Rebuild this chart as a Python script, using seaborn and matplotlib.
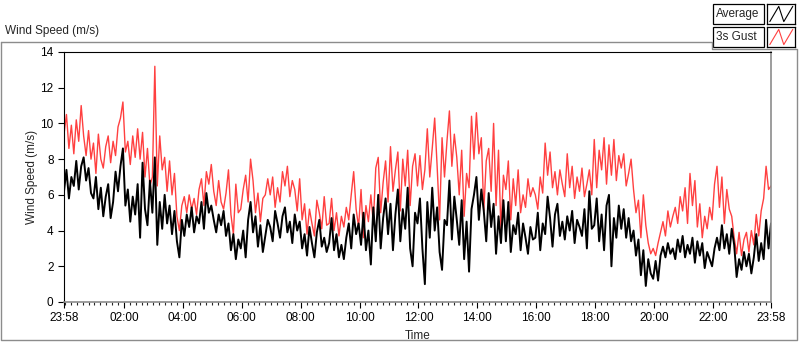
import numpy as np
import pandas as pd
import seaborn as sns
import matplotlib.pyplot as plt
import matplotlib.dates as mdates
from matplotlib.lines import Line2D
from matplotlib.patches import Rectangle

# 5-minute readings, 23:58 -> 23:58 next day (one row per hour)
avg_speed = [
    6.2, 7.4, 5.8, 7.0, 6.5, 7.9, 6.3, 7.6, 8.1, 6.8, 7.5, 6.1,
    5.8, 7.0, 5.2, 6.4, 4.8, 5.9, 6.6, 4.7, 5.6, 7.3, 6.2, 7.6,
    8.6, 5.4, 6.3, 4.5, 5.9, 4.9, 6.6, 3.6, 7.8, 5.2, 4.3, 6.8,
    5.0, 8.1, 3.2, 5.6, 4.1, 6.0, 4.4, 5.4, 3.8, 5.1, 3.4, 2.5,
    4.6, 3.7, 4.9, 4.2, 5.3, 3.9, 4.8, 4.4, 5.6, 4.1, 6.1, 5.0,
    5.4, 4.6, 3.9, 4.9, 4.3, 5.1, 3.7, 4.4, 2.9, 3.8, 2.4, 3.5,
    3.0, 4.0, 2.5, 4.6, 5.6, 3.9, 4.8, 3.1, 4.3, 2.8, 3.7, 4.6,
    4.2, 3.4, 5.1, 4.4, 3.6, 4.8, 5.3, 3.9, 4.5, 3.3, 4.9, 4.0,
    4.5, 3.0, 3.8, 2.6, 4.2, 3.3, 2.5, 3.9, 4.6, 3.1, 3.6, 2.8,
    3.3, 4.7, 2.9, 3.8, 2.5, 3.2, 2.4, 3.6, 4.4, 3.0, 4.9, 3.8,
    4.4, 3.2, 5.0, 2.9, 4.0, 2.1, 5.3, 3.4, 6.0, 3.0, 4.7, 5.8,
    3.8, 5.5, 2.9, 4.9, 6.3, 3.4, 5.2, 4.1, 6.4, 3.0, 2.0, 5.0,
    4.4, 5.8, 3.0, 1.0, 5.6, 3.6, 6.4, 4.0, 5.3, 2.8, 1.8, 4.6,
    4.3, 6.8, 3.5, 5.9, 4.6, 3.2, 5.7, 2.4, 4.5, 1.7, 5.2, 6.0,
    7.0, 4.6, 6.3, 5.1, 3.4, 6.1, 4.2, 5.5, 2.7, 4.8, 3.3, 5.7,
    3.4, 5.6, 2.8, 4.3, 3.8, 5.0, 2.9, 4.4, 3.6, 2.7, 4.2, 3.5,
    3.6, 5.0, 2.9, 4.4, 3.8, 5.9, 4.7, 3.1, 4.9, 5.5, 3.7, 4.5,
    3.5, 4.8, 4.0, 5.1, 3.3, 4.6, 4.2, 3.7, 5.2, 3.0, 6.2, 4.1,
    4.3, 5.8, 3.4, 4.9, 2.9, 5.4, 6.0, 2.0, 4.7, 3.6, 5.4, 4.1,
    5.2, 3.6, 4.7, 3.4, 4.0, 2.6, 3.5, 1.5, 2.9, 0.9, 2.4, 1.6,
    1.3, 2.3, 1.2, 2.6, 3.1, 2.5, 3.3, 2.7, 3.0, 2.4, 3.5, 2.8,
    3.7, 2.5, 3.2, 2.7, 3.6, 2.2, 3.4, 2.6, 3.3, 1.9, 2.8, 2.4,
    2.0, 3.0, 3.6, 2.9, 4.3, 3.0, 3.8, 2.7, 4.1, 3.2, 1.4, 2.4,
    1.8, 2.8, 2.0, 2.7, 1.6, 2.5, 3.8, 2.3, 3.3, 2.4, 4.6, 3.0,
    4.4,
]
gust_speed = [
    9.4, 10.5, 8.6, 9.9, 8.3, 10.2, 9.0, 11.0, 9.3, 8.2, 9.6, 8.0,
    8.9, 7.2, 9.4, 8.0, 7.5, 8.7, 9.3, 7.8, 9.0, 8.2, 9.8, 10.3,
    11.2, 8.4, 9.0, 7.7, 9.3, 8.1, 9.7, 8.0, 9.5, 7.0, 8.6, 6.5,
    7.0, 13.2, 6.5, 9.3, 7.4, 8.1, 6.2, 7.9, 6.0, 7.2, 4.8, 4.0,
    5.4, 5.9, 5.0, 6.0, 5.2, 5.8, 4.9, 6.3, 6.9, 5.4, 7.3, 6.6,
    7.7, 6.2, 5.4, 6.8, 5.6, 5.2, 6.1, 7.4, 4.9, 3.8, 6.6, 5.0,
    5.2, 6.3, 7.1, 5.6, 8.0, 6.8, 5.0, 6.1, 4.5, 5.8, 6.0, 6.9,
    6.0, 7.0, 5.3, 6.4, 5.6, 7.3, 6.5, 7.6, 5.9, 6.8, 6.3, 5.1,
    6.9, 4.6, 5.5, 3.8, 5.2, 4.4, 3.7, 5.7, 5.0, 4.1, 5.9, 4.3,
    4.4, 5.8, 4.0, 5.0, 3.7, 4.8, 4.2, 5.3, 4.6, 6.0, 7.3, 5.2,
    4.2, 6.3, 3.6, 5.4, 4.5, 6.0, 4.4, 7.5, 8.1, 5.0, 6.7, 7.9,
    5.6, 8.7, 6.2, 7.4, 8.4, 5.1, 8.0, 6.5, 8.5, 5.4, 7.6, 8.3,
    6.5, 8.2, 6.3, 7.4, 9.7, 7.0, 8.6, 10.3, 7.6, 4.6, 9.2, 7.0,
    9.0, 10.7, 7.6, 9.4, 8.1, 6.0, 8.5, 4.8, 7.2, 6.4, 10.4, 8.0,
    10.6, 8.3, 9.2, 5.1, 7.9, 8.6, 6.2, 10.0, 5.4, 8.5, 4.0, 7.1,
    6.3, 7.9, 4.6, 6.9, 5.4, 7.4, 5.0, 6.0, 5.3, 6.9, 5.9, 6.4,
    6.0, 5.2, 7.0, 6.1, 8.9, 7.1, 8.4, 6.4, 7.3, 6.0, 7.4, 6.6,
    5.9, 8.3, 6.4, 7.6, 5.8, 7.0, 6.2, 7.5, 5.9, 6.6, 7.4, 6.0,
    9.1, 6.4, 8.5, 7.4, 9.2, 6.6, 8.8, 7.1, 9.1, 6.8, 8.2, 7.5,
    8.3, 6.5, 7.2, 8.0, 6.3, 5.0, 5.7, 3.6, 6.0, 4.3, 3.3, 2.7,
    3.0, 2.6, 3.3, 3.9, 4.5, 3.7, 5.1, 4.2, 4.8, 5.3, 4.4, 5.9,
    5.1, 6.4, 4.4, 7.2, 5.4, 6.8, 4.2, 5.5, 3.6, 4.8, 4.1, 5.3,
    4.6, 6.6, 7.6, 5.3, 7.0, 4.4, 6.3, 5.2, 4.8, 3.6, 2.7, 3.9,
    2.6, 3.5, 3.9, 2.8, 4.0, 3.2, 4.9, 3.7, 5.1, 5.8, 7.6, 6.3,
    6.5,
]
times = pd.date_range("2013-06-01 23:58", periods=len(avg_speed), freq="5min")
y_ticks = [0, 2, 4, 6, 8, 10, 12, 14]

RED = "#ff4040"
GRAY = "#8c8c8c"

sns.set_style("ticks")
plt.rcParams["font.family"] = ["Liberation Sans", "DejaVu Sans"]

fig = plt.figure(figsize=(8.0, 3.42), dpi=100)
ax = fig.add_axes([64 / 800, 1 - 302 / 342, 707 / 800, 250 / 342])

sns.lineplot(x=times, y=gust_speed, color=RED, linewidth=1.0, ax=ax)
sns.lineplot(x=times, y=avg_speed, color="black", linewidth=1.4, ax=ax)

ax.set_xlim(times[0], times[-1])
ax.set_ylim(0, 14)
ax.set_yticks(y_ticks)
major = [times[0]] + list(pd.date_range("2013-06-02 02:00", "2013-06-02 22:00", freq="2h")) + [times[-1]]
ax.set_xticks(major)
ax.xaxis.set_major_formatter(mdates.DateFormatter("%H:%M"))
ax.xaxis.set_minor_locator(mdates.MinuteLocator(byminute=[0, 12, 24, 36, 48]))
ax.tick_params(axis="both", which="major", length=4, width=0.8, labelsize=8.5, colors="black")
ax.tick_params(axis="x", which="minor", length=2.5, width=0.8)
ax.set_xlabel("Time", fontsize=8.5, labelpad=4)
ax.set_ylabel("Wind Speed (m/s)", fontsize=8.5, labelpad=2)

for side in ("top", "left"):
    ax.spines[side].set_color("black")
    ax.spines[side].set_visible(True)
for side in ("bottom", "right"):
    ax.spines[side].set_color(GRAY)
    ax.spines[side].set_visible(True)
    ax.spines[side].set_linewidth(1.2)


def px(x, y):
    return x / 800, 1 - y / 342


# outer panel frame
frame = [(1, 42), (712, 42), (712, 49), (797, 49), (797, 340), (1, 340), (1, 42)]
fig.add_artist(Line2D([px(*p)[0] for p in frame], [px(*p)[1] for p in frame],
                      color=GRAY, linewidth=1.0, transform=fig.transFigure))

fig.text(5 / 800, 1 - 31 / 342, "Wind Speed (m/s)", fontsize=8.5, va="center", ha="left")

# LabVIEW-style plot legend: label box + swatch box
legend_items = [("Average", "black", 4), ("3s Gust", RED, 27)]
zig_x = [0.1, 0.42, 0.6, 0.92]
zig_y = [0.12, 0.88, 0.12, 0.88]
for label, color, top in legend_items:
    x0, y0 = px(713, top + 20)
    fig.add_artist(Rectangle((x0, y0), 51 / 800, 20 / 342, transform=fig.transFigure,
                             facecolor="white", edgecolor="black", linewidth=0.9))
    fig.text(716 / 800, 1 - (top + 10) / 342, label, fontsize=8.5, va="center", ha="left")
    sw = fig.add_axes([767 / 800, 1 - (top + 20) / 342, 28 / 800, 20 / 342])
    sw.plot(zig_x, zig_y, color=color, linewidth=0.8)
    sw.set_xlim(0, 1)
    sw.set_ylim(0, 1)
    sw.set_xticks([])
    sw.set_yticks([])
    for s in sw.spines.values():
        s.set_visible(True)
        s.set_color("black")
        s.set_linewidth(0.9)

fig.savefig("out.png", dpi=100)
